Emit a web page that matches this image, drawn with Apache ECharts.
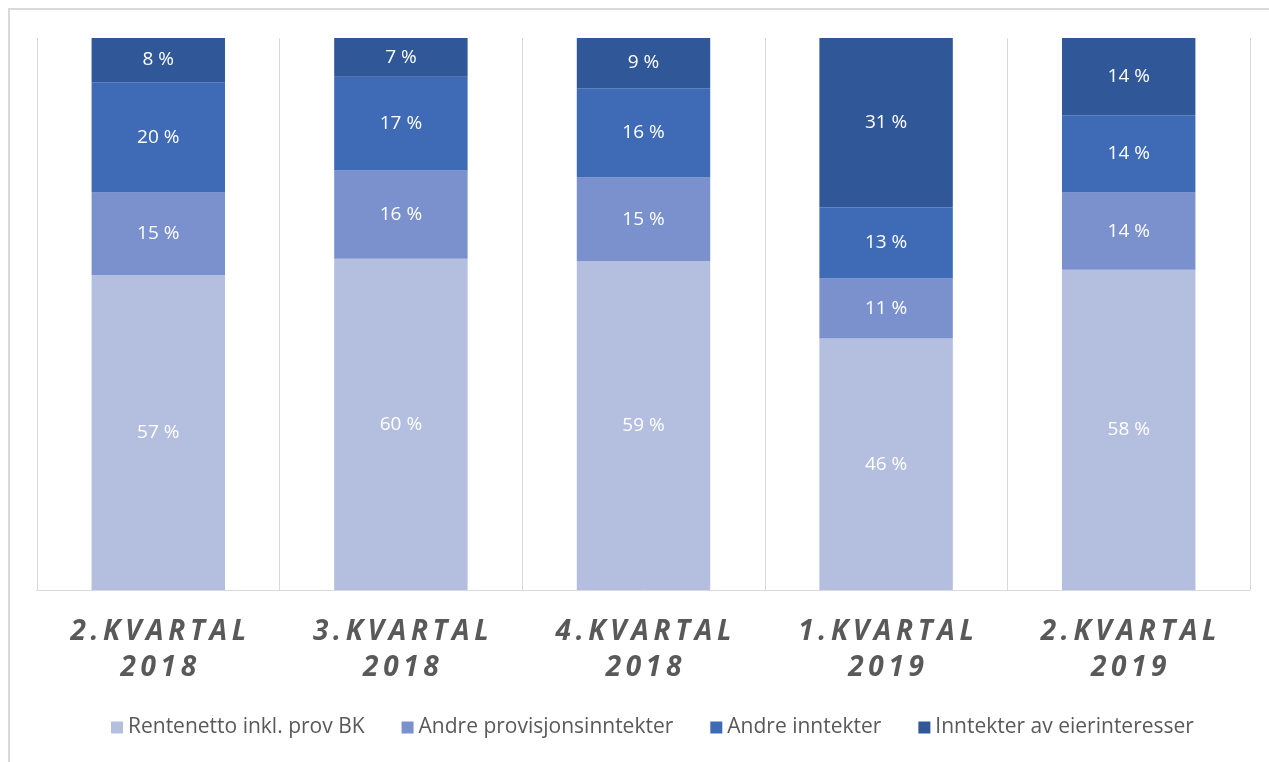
<!DOCTYPE html>
<html>
<head>
<meta charset="utf-8">
<script src="https://cdn.jsdelivr.net/npm/echarts@6/dist/echarts.min.js"></script>
<style>
  html, body { margin: 0; padding: 0; background: #fff; }
  #myChart { width: 1269px; height: 762px; }
</style>
</head>
<body>
<div id="myChart"></div>
<script>
// kvartaler
var categories = ['2.KVARTAL\n2018', '3.KVARTAL\n2018', '4.KVARTAL\n2018', '1.KVARTAL\n2019', '2.KVARTAL\n2019'];
var seriesNames = ['Rentenetto inkl. prov BK', 'Andre provisjonsinntekter', 'Andre inntekter', 'Inntekter av eierinteresser'];
// andeler i prosent, slik de står i etikettene
var rentenetto = [57, 60, 59, 46, 58];
var provisjon = [15, 16, 15, 11, 14];
var andre = [20, 17, 16, 13, 14];
var eier = [8, 7, 9, 31, 14];
var colors = ['#b4bfdf', '#7a91cd', '#3e6ab6', '#305797'];

var raw = [rentenetto, provisjon, andre, eier];

// 100 % stablet: normaliser hver kolonne
var totals = categories.map(function (c, i) {
    var s = 0;
    raw.forEach(function (arr) { s += arr[i]; });
    return s;
});

var myChart = echarts.init(document.getElementById('myChart'));

var series = raw.map(function (arr, k) {
    return {
        name: seriesNames[k],
        type: 'bar',
        stack: 'total',
        barWidth: '55%',
        itemStyle: { color: colors[k] },
        label: {
            show: true,
            position: 'inside',
            color: '#ffffff',
            fontFamily: 'Open Sans',
            fontSize: 19,
            formatter: function (p) {
                return arr[p.dataIndex] + ' %';
            }
        },
        data: arr.map(function (v, i) { return v / totals[i] * 100; })
    };
});

var option = {
    animation: false,
    graphic: [{
        type: 'rect',
        shape: { x: 9, y: 9, width: 1300, height: 800 },
        style: { fill: 'none', stroke: '#d9d9d9', lineWidth: 2 },
        silent: true
    }],
    legend: {
        bottom: 19,
        left: 106,
        itemWidth: 12,
        itemHeight: 12,
        itemGap: 37,
        icon: 'rect',
        data: seriesNames,
        textStyle: {
            color: '#595959',
            fontFamily: 'Open Sans',
            fontSize: 21
        }
    },
    grid: {
        left: 37,
        right: 19,
        top: 38,
        bottom: 172
    },
    xAxis: {
        type: 'category',
        data: categories,
        axisTick: { show: false },
        axisLine: { lineStyle: { color: '#d9d9d9', width: 1 } },
        splitLine: {
            show: true,
            interval: 0,
            lineStyle: { color: '#d9d9d9', width: 1 }
        },
        axisLabel: {
            interval: 0,
            margin: 24,
            color: '#595959',
            fontFamily: 'Open Sans',
            fontStyle: 'italic',
            fontWeight: 'bold',
            fontSize: 28,
            lineHeight: 36,
            formatter: function (v) {
                return v.split('\n').map(function (line) {
                    return line.split('').join('\u2009');
                }).join('\n');
            }
        }
    },
    yAxis: {
        type: 'value',
        min: 0,
        max: 100,
        show: false,
        splitLine: { show: false }
    },
    series: series
};

myChart.setOption(option);
</script>
</body>
</html>
